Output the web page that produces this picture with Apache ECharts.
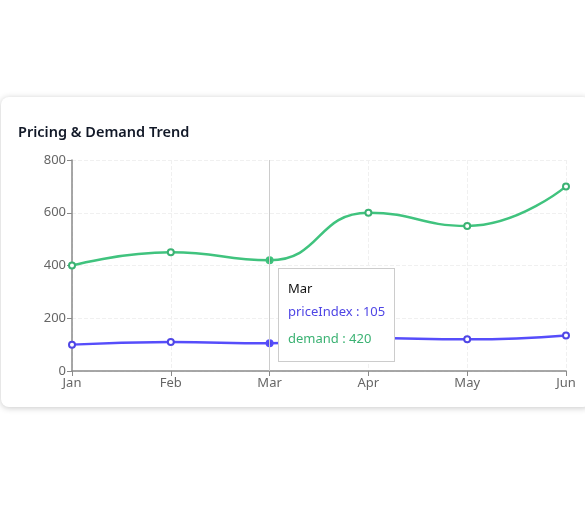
<!DOCTYPE html>
<html>
<head>
<meta charset="utf-8">
<script src="https://cdn.jsdelivr.net/npm/echarts@6/dist/echarts.min.js"></script>
<style>
  body { margin: 0; background: #fff; font-family: "Noto Sans", sans-serif; }
  .card {
    position: absolute; left: 1px; top: 97px; width: 590px; height: 310px;
    background: #fff; border-radius: 8px;
    box-shadow: 0 1px 6px rgba(0, 0, 0, 0.22);
  }
  #chart { width: 590px; height: 310px; }
</style>
</head>
<body>
<div class="card"><div id="chart"></div></div>
<script>
const months = ['Jan', 'Feb', 'Mar', 'Apr', 'May', 'Jun'];
const priceIndex = [100, 110, 105, 125, 120, 135];
const demand = [400, 450, 420, 600, 550, 700];
const yTicks = [0, 200, 400, 600, 800];

const purple = '#4f46e5';
const green = '#3bb273';

let myChart = echarts.init(document.getElementById('chart'));
myChart.setOption({
  animation: false,
  textStyle: { fontFamily: 'Noto Sans' },
  title: {
    text: 'Pricing & Demand Trend',
    left: 12, top: 23,
    textStyle: { fontSize: 14.5, fontWeight: 600, color: '#111827' }
  },
  tooltip: {
    trigger: 'axis',
    position: [277, 171],
    backgroundColor: '#fff',
    borderColor: '#ccc',
    borderWidth: 1,
    borderRadius: 0,
    padding: [9, 9, 9, 9],
    extraCssText: 'box-shadow:none;',
    axisPointer: { lineStyle: { type: 'solid', color: '#ccc', width: 1 } },
    formatter: function (params) {
      let s = '<div style="color:#111;font-size:13px;line-height:20px">' + params[0].axisValue + '</div>';
      params.forEach(p => {
        s += '<div style="color:' + p.color + ';font-size:13px;line-height:27px">' +
          p.seriesName + ' : ' + p.value + '</div>';
      });
      return s;
    }
  },
  grid: { left: 71, right: 25, top: 63, bottom: 36 },
  xAxis: {
    type: 'category',
    boundaryGap: false,
    data: months,
    axisLine: { lineStyle: { color: '#8a8a8a', width: 1.5 } },
    axisTick: { show: true },
    axisLabel: { color: '#666', fontSize: 13, margin: 6 },
    splitLine: { show: true, lineStyle: { type: 'dashed', color: '#f0f0f0' } }
  },
  yAxis: {
    type: 'value',
    min: yTicks[0], max: yTicks[yTicks.length - 1], interval: 200,
    axisLine: { show: true, lineStyle: { color: '#8a8a8a', width: 1.5 } },
    axisTick: { show: true },
    axisLabel: { color: '#666', fontSize: 13, margin: 6 },
    splitLine: { lineStyle: { type: 'dashed', color: '#f0f0f0' } }
  },
  series: [
    {
      name: 'priceIndex', type: 'line', smooth: true, data: priceIndex,
      symbol: 'emptyCircle', symbolSize: 6,
      lineStyle: { width: 2.5, color: purple }, itemStyle: { color: purple, borderWidth: 2 },
      emphasis: { scale: false, itemStyle: { color: purple } }
    },
    {
      name: 'demand', type: 'line', smooth: true, data: demand,
      symbol: 'emptyCircle', symbolSize: 6,
      lineStyle: { width: 2.5, color: green }, itemStyle: { color: green, borderWidth: 2 },
      emphasis: { scale: false, itemStyle: { color: green } }
    }
  ]
});
myChart.dispatchAction({ type: 'showTip', seriesIndex: 0, dataIndex: 2 });
</script>
</body>
</html>
